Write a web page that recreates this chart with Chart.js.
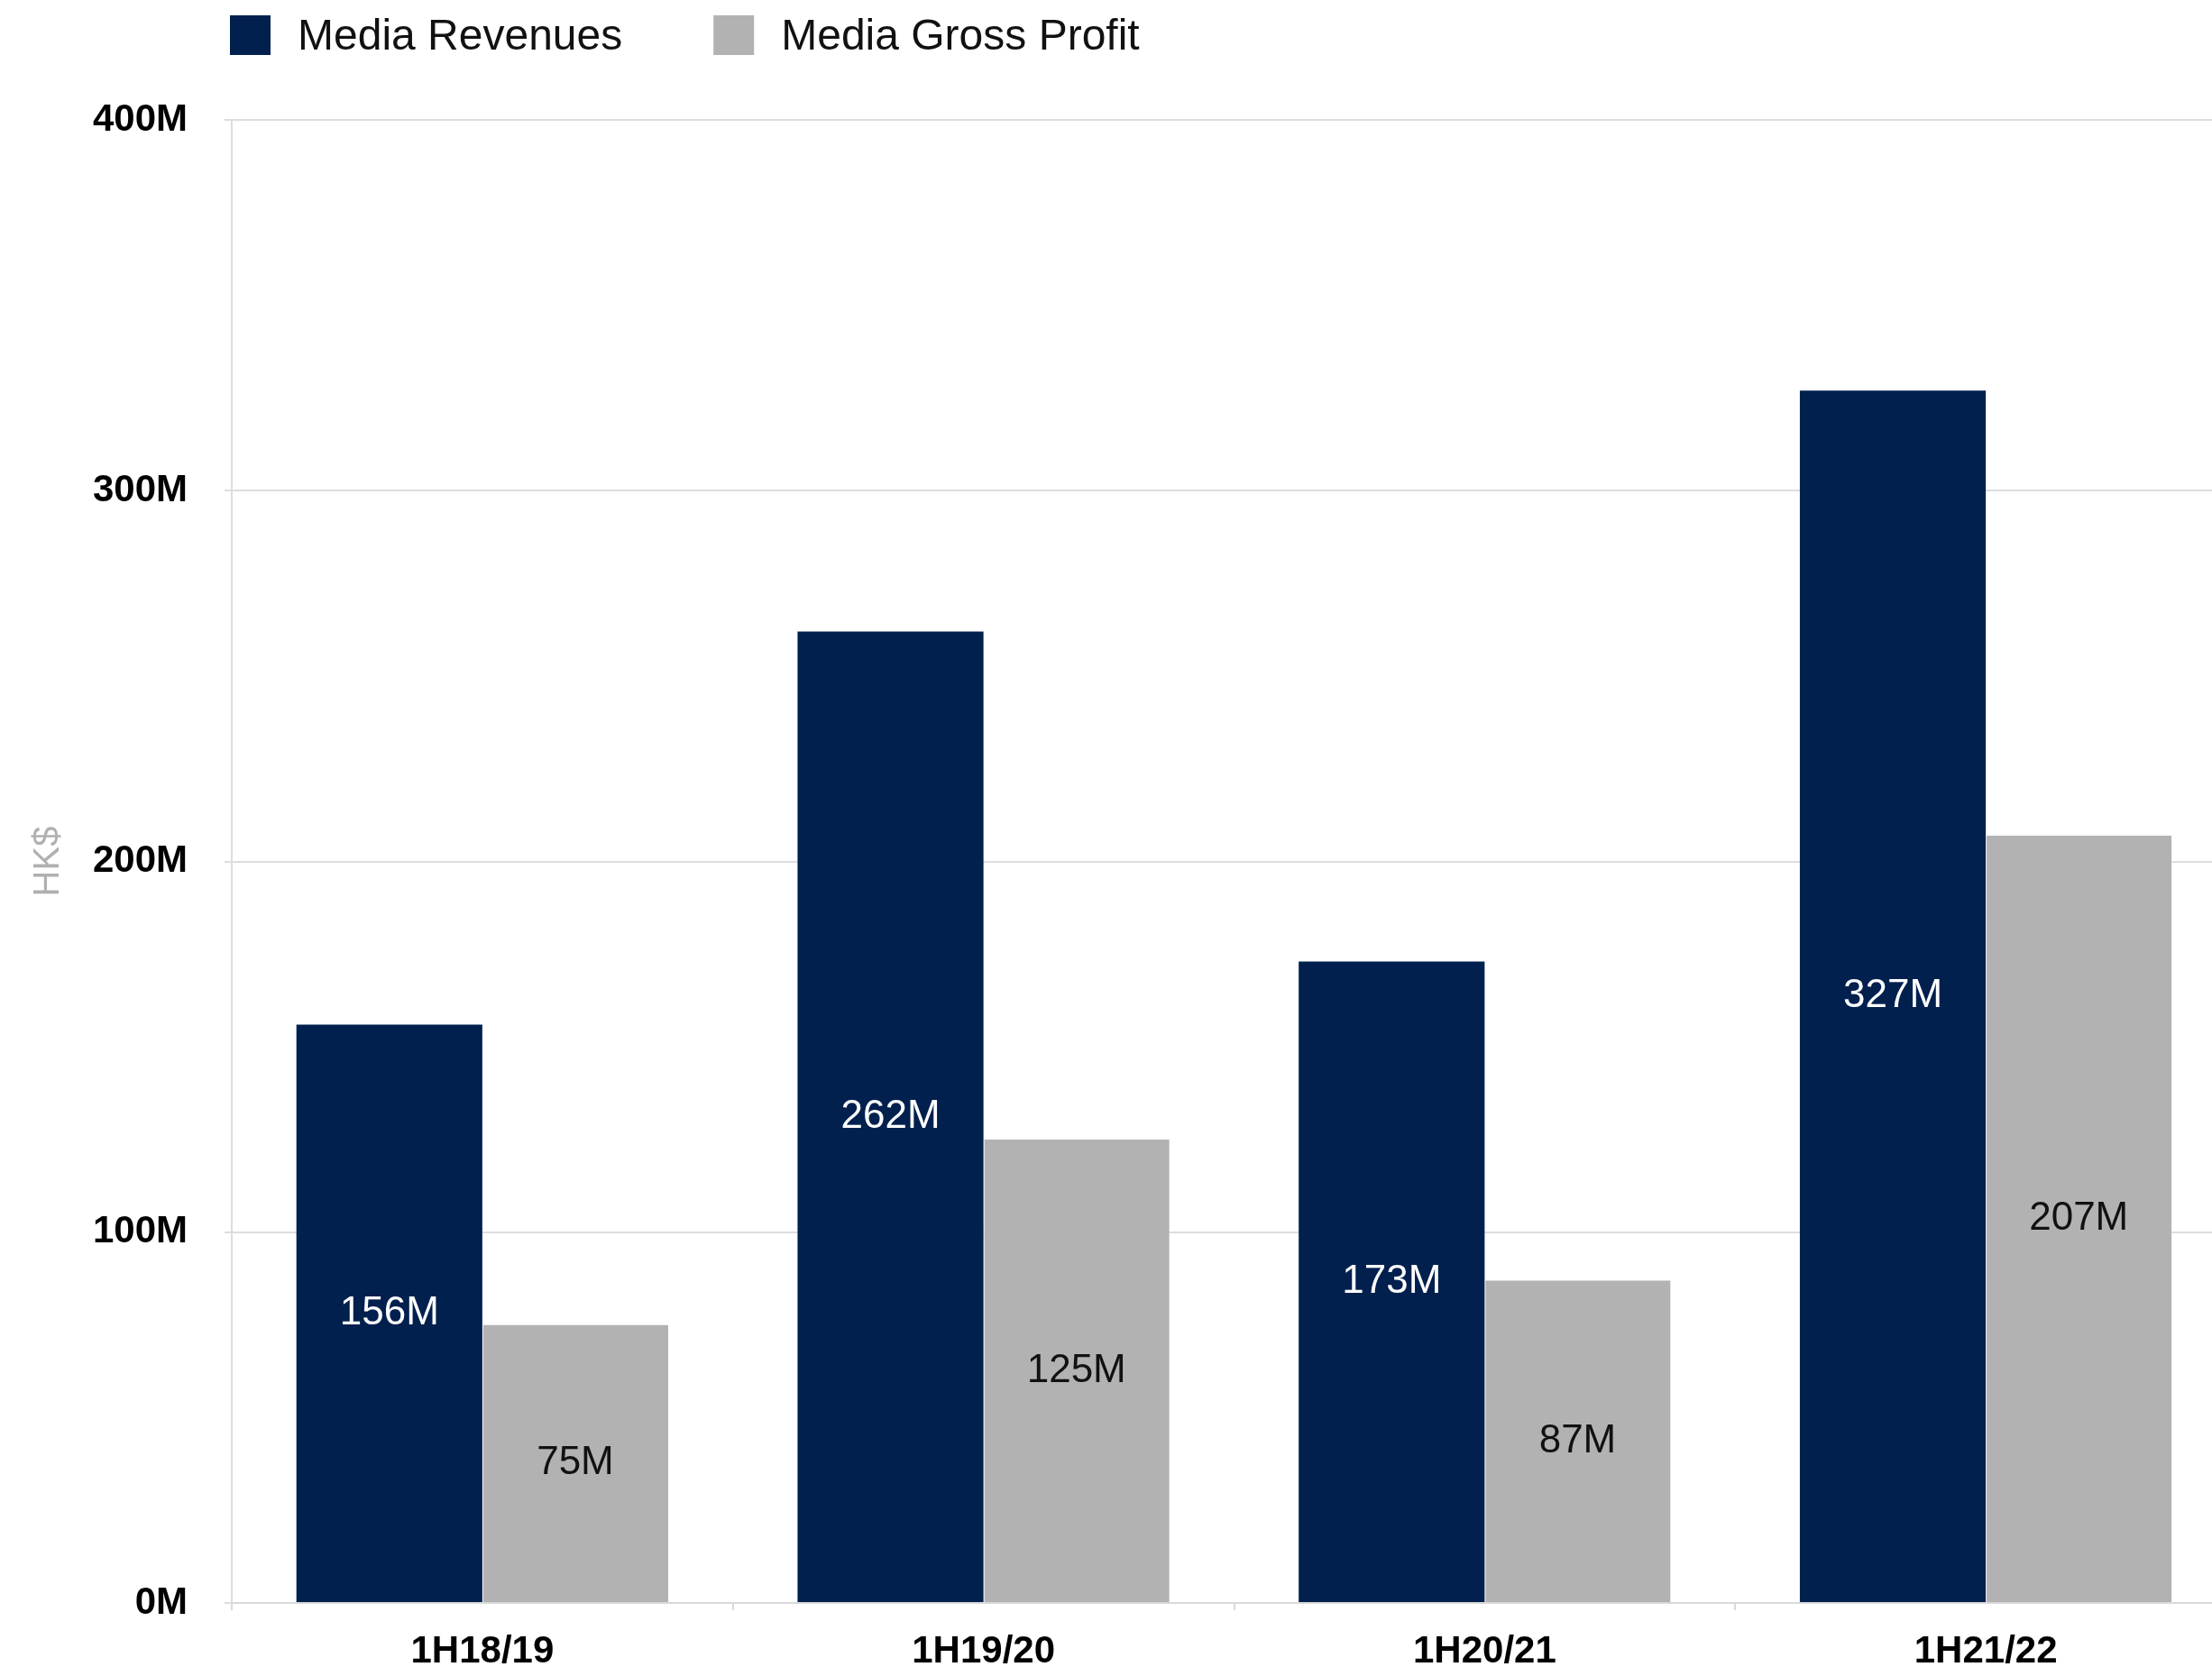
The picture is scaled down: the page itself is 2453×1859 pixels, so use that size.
<!DOCTYPE html>
<html>
<head>
<meta charset="utf-8">
<title>Media Revenues and Gross Profit</title>
<script src="https://cdn.jsdelivr.net/npm/chart.js@4.4.1/dist/chart.umd.min.js"></script>
<style>
  html, body { margin: 0; padding: 0; background: #fff; overflow: hidden; }
  #wrap { width: 2480px; height: 1859px; }
</style>
</head>
<body>
<div id="wrap"><canvas id="chart" width="2480" height="1859"></canvas></div>
<script>
const periods = ['1H18/19', '1H19/20', '1H20/21', '1H21/22'];
const mediaRevenues = [156, 262, 173, 327];
const mediaGrossProfit = [75, 125, 87, 207];
const yTickValues = [0, 100, 200, 300, 400];
const valueLabelColors = ['#ffffff', '#111111'];

const NAVY = '#01204e';
const GREY = '#b2b2b2';
const FONT = '"Liberation Sans", Arial, Helvetica, sans-serif';

// legend row above the plot, starting at the y axis
const topLegend = {
  id: 'topLegend',
  afterDraw(chart) {
    const ctx = chart.ctx;
    let x = chart.chartArea.left - 2;
    ctx.save();
    ctx.font = '48px ' + FONT;
    ctx.textBaseline = 'middle';
    ctx.textAlign = 'left';
    chart.data.datasets.forEach(ds => {
      ctx.fillStyle = ds.backgroundColor;
      ctx.fillRect(x, 17, 45, 44);
      ctx.fillStyle = '#111';
      ctx.fillText(ds.label, x + 75, 42);
      x += 75 + ctx.measureText(ds.label).width + 101;
    });
    ctx.restore();
  }
};

// value written in the middle of each bar
const barValues = {
  id: 'barValues',
  afterDatasetsDraw(chart) {
    const ctx = chart.ctx;
    ctx.save();
    ctx.font = '44px ' + FONT;
    ctx.textAlign = 'center';
    ctx.textBaseline = 'middle';
    chart.data.datasets.forEach((ds, i) => {
      chart.getDatasetMeta(i).data.forEach((bar, j) => {
        ctx.fillStyle = valueLabelColors[i];
        ctx.fillText(ds.data[j] + 'M', bar.x, (bar.y + bar.base) / 2);
      });
    });
    ctx.restore();
  }
};

const tickFont = { family: FONT, size: 42, weight: 'bold' };

new Chart(document.getElementById('chart'), {
  type: 'bar',
  data: {
    labels: periods,
    datasets: [
      {
        label: 'Media Revenues',
        data: mediaRevenues,
        backgroundColor: NAVY,
        borderWidth: 0,
        barPercentage: 1,
        categoryPercentage: 0.742
      },
      {
        label: 'Media Gross Profit',
        data: mediaGrossProfit,
        backgroundColor: GREY,
        borderColor: '#ffffff',
        borderWidth: { left: 1 },
        borderSkipped: false,
        barPercentage: 1,
        categoryPercentage: 0.742
      }
    ]
  },
  options: {
    responsive: false,
    animation: false,
    devicePixelRatio: 1,
    layout: { padding: { top: 133, left: 0, right: 0, bottom: 0 } },
    plugins: {
      legend: { display: false },
      tooltip: { enabled: false }
    },
    scales: {
      x: {
        afterFit(scale) { scale.height = 81; },
        grid: { display: true, drawOnChartArea: false, offset: true, color: '#d9d9d9', lineWidth: 2, tickLength: 8 },
        border: { color: '#d9d9d9', width: 2 },
        ticks: { color: '#000', font: tickFont, padding: 21, maxRotation: 0 }
      },
      y: {
        min: 0,
        max: 400,
        afterBuildTicks(scale) { scale.ticks = yTickValues.map(v => ({ value: v })); },
        afterFit(scale) { scale.width = 257; },
        ticks: { color: '#000', font: tickFont, padding: 41, callback: v => v + 'M' },
        grid: { color: '#dddddd', lineWidth: 2, tickLength: 8 },
        border: { color: '#dddddd', width: 2 },
        title: {
          display: true,
          text: 'HK$',
          color: '#b0b0b0',
          font: { family: FONT, size: 40 },
          padding: { top: 30, bottom: 0 }
        }
      }
    }
  },
  plugins: [topLegend, barValues]
});
</script>
</body>
</html>
